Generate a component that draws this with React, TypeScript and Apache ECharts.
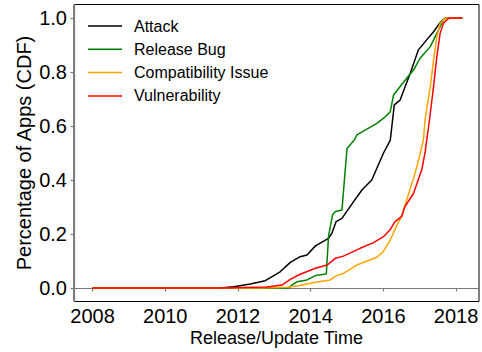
import React, { useEffect, useRef } from "react";
import * as echarts from "echarts";

// Data (year, CDF)
const attackX = [2008.0, 2011.5, 2011.88, 2012.34, 2012.75, 2013.16, 2013.44, 2013.71, 2013.9, 2014.13, 2014.49, 2014.58, 2014.7, 2014.86, 2015.18, 2015.41, 2015.68, 2016.0, 2016.19, 2016.3, 2016.46, 2016.6, 2016.74, 2016.96, 2017.19, 2017.38, 2017.56, 2017.7, 2018.17];
const attackY = [0, 0, 0.005, 0.015, 0.027, 0.06, 0.095, 0.116, 0.122, 0.156, 0.184, 0.202, 0.246, 0.258, 0.32, 0.363, 0.4, 0.499, 0.548, 0.678, 0.696, 0.746, 0.795, 0.881, 0.919, 0.949, 0.983, 1.0, 1.0];

const bugX = [2008.0, 2013.4, 2013.48, 2013.62, 2013.9, 2014.13, 2014.43, 2014.49, 2014.6, 2014.68, 2014.86, 2015.0, 2015.2, 2015.27, 2015.82, 2016.05, 2016.19, 2016.28, 2016.46, 2016.64, 2016.83, 2017.01, 2017.29, 2017.47, 2017.65, 2017.73, 2018.17];
const bugY = [0, 0, 0.011, 0.023, 0.03, 0.046, 0.052, 0.191, 0.27, 0.283, 0.289, 0.517, 0.548, 0.567, 0.61, 0.634, 0.653, 0.715, 0.746, 0.777, 0.807, 0.851, 0.894, 0.943, 0.993, 1.0, 1.0];

const compatX = [2008.0, 2012.5, 2013.35, 2013.71, 2014.13, 2014.54, 2014.68, 2014.9, 2015.27, 2015.82, 2015.98, 2016.19, 2016.37, 2016.5, 2016.64, 2016.83, 2016.97, 2017.1, 2017.15, 2017.29, 2017.38, 2017.47, 2017.56, 2017.7, 2018.17];
const compatY = [0, 0, 0.003, 0.009, 0.021, 0.03, 0.044, 0.054, 0.085, 0.114, 0.132, 0.178, 0.233, 0.264, 0.326, 0.406, 0.474, 0.548, 0.628, 0.746, 0.844, 0.93, 0.98, 1.0, 1.0];

const vulnX = [2008.0, 2011.5, 2012.8, 2013.21, 2013.44, 2013.71, 2014.13, 2014.45, 2014.68, 2014.9, 2015.36, 2015.73, 2016.0, 2016.19, 2016.32, 2016.5, 2016.59, 2016.83, 2017.06, 2017.15, 2017.27, 2017.38, 2017.47, 2017.56, 2017.65, 2017.79, 2017.85, 2018.17];
const vulnY = [0, 0, 0.004, 0.011, 0.032, 0.051, 0.073, 0.085, 0.11, 0.118, 0.147, 0.168, 0.19, 0.217, 0.246, 0.264, 0.301, 0.351, 0.44, 0.505, 0.625, 0.746, 0.857, 0.943, 0.98, 0.998, 1.0, 1.0];

const seriesNames = ["Attack", "Release Bug", "Compatibility Issue", "Vulnerability"];
const seriesColors = ["#000000", "#008000", "#FFA500", "#FF0000"];
const xTicks = [2008, 2010, 2012, 2014, 2016, 2018];
const yTicks = [0, 0.2, 0.4, 0.6, 0.8, 1.0];

const FONT = "'Liberation Sans', Arial, sans-serif";

const zip = (xs: number[], ys: number[]) => xs.map((x, i) => [x, ys[i]]);

export default function App() {
  const ref = useRef<HTMLDivElement>(null);
  useEffect(() => {
    if (!ref.current) return;
    const chart = echarts.init(ref.current, undefined, { renderer: "svg" });
    const dataSets = [zip(attackX, attackY), zip(bugX, bugY), zip(compatX, compatY), zip(vulnX, vulnY)];
    chart.setOption({
      animation: false,
      backgroundColor: "#ffffff",
      textStyle: { fontFamily: FONT },
      grid: {
        left: 74,
        right: 3,
        top: 4.5,
        bottom: 50.5,
        show: true,
        borderColor: "#000000",
        borderWidth: 1,
        backgroundColor: "transparent",
      },
      legend: {
        data: seriesNames.map((name) => ({ name, icon: "rect" })),
        orient: "vertical",
        left: 88,
        top: 18,
        padding: 0,
        itemWidth: 34,
        itemHeight: 1.5,
        itemGap: 7.3,
        textStyle: { fontSize: 16, color: "#000", fontFamily: FONT, lineHeight: 14, padding: [0, 0, 0, 7] },
      },
      xAxis: {
        type: "value",
        min: 2007.49,
        max: 2018.63,
        name: "Release/Update Time",
        nameLocation: "middle",
        nameGap: 27,
        nameMoveOverlap: false,
        nameTextStyle: { fontSize: 18, color: "#000", fontFamily: FONT },
        axisLine: { show: true, lineStyle: { color: "#7a7a7a", width: 1.2 } },
        axisTick: { show: true, length: 3.5, inside: false, customValues: xTicks, lineStyle: { color: "#7a7a7a", width: 1.2 } },
        axisLabel: { customValues: xTicks, fontSize: 20, color: "#000", margin: 4, fontFamily: FONT, formatter: (v: number) => String(Math.round(v)) },
        splitLine: { show: false },
      },
      yAxis: {
        type: "value",
        min: -0.05,
        max: 1.05,
        name: "Percentage of Apps (CDF)",
        nameLocation: "middle",
        nameGap: 40,
        nameMoveOverlap: false,
        nameTextStyle: { fontSize: 20, color: "#000", fontFamily: FONT },
        axisLine: { show: true, lineStyle: { color: "#7a7a7a", width: 1.2 } },
        axisTick: { show: true, length: 3.5, inside: false, customValues: yTicks, lineStyle: { color: "#7a7a7a", width: 1.2 } },
        axisLabel: { customValues: yTicks, fontSize: 20, color: "#000", margin: 7, fontFamily: FONT, formatter: (v: number) => v.toFixed(1) },
        splitLine: { show: false },
      },
      series: seriesNames.map((name, i) => ({
        name,
        type: "line",
        data: dataSets[i],
        showSymbol: false,
        symbol: "none",
        smooth: false,
        color: seriesColors[i],
        lineStyle: { color: seriesColors[i], width: 1.5 },
        z: 2 + i,
      })),
    });
    return () => chart.dispose();
  }, []);
  return <div ref={ref} style={{ width: 482, height: 352, position: "absolute", left: 0, top: 0 }} />;
}
